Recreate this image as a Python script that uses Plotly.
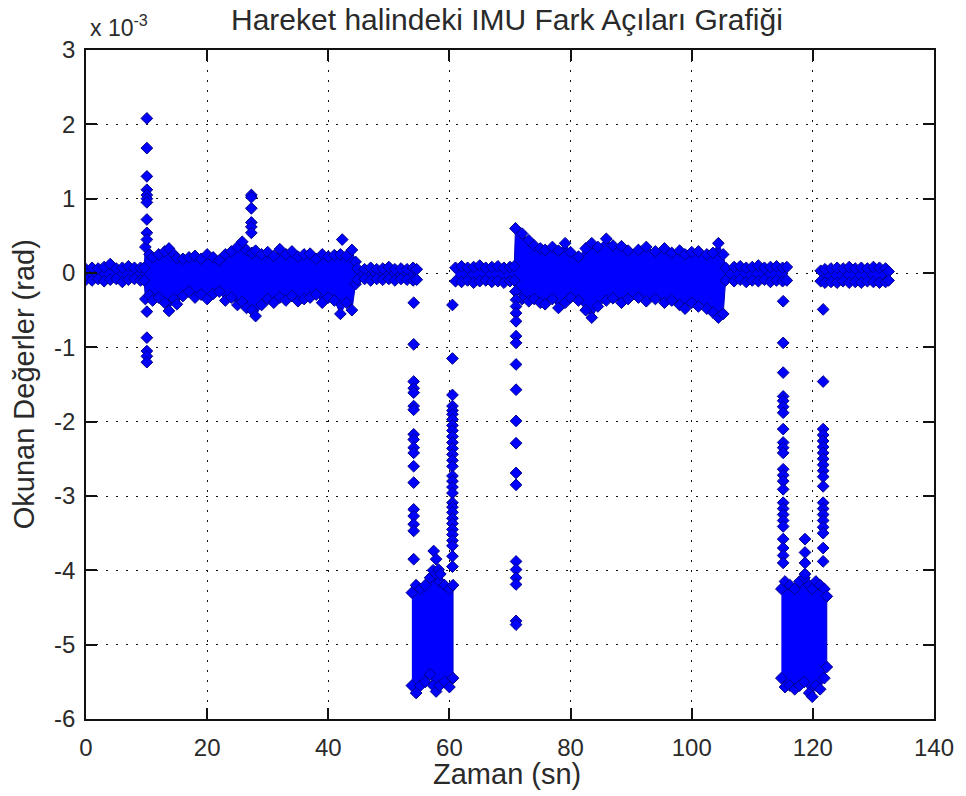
import plotly.graph_objects as go

# ---------------- data (values in units of 1e-3 rad) ----------------
x_ticks = [0, 20, 40, 60, 80, 100, 120, 140]
y_ticks = [-6, -5, -4, -3, -2, -1, 0, 1, 2, 3]

# dense cloud around zero, 0 .. 54.6 s (upper / lower envelope of sample centres)
segA_t = [0, 1, 2, 3, 4, 5, 6, 7, 8, 9, 9.6,
          9.8, 10.5, 11, 12, 13, 13.7, 14.5, 15, 16, 17, 18, 19, 20, 21, 22, 23, 24, 25, 25.8,
          26.5, 27.4, 28, 29, 30, 31, 32, 33, 34, 35, 36, 37, 38, 39, 40, 41, 42, 43, 43.9, 44.5,
          44.8, 46, 47, 48, 49, 50, 51, 52, 53, 54, 54.6]
segA_up = [.05, .07, .06, .08, .12, .06, .07, .09, .07, .07, .07,
           .35, .25, .21, .25, .29, .33, .25, .20, .19, .21, .23, .19, .25, .21, .17, .25, .29, .35, .42,
           .31, .27, .30, .25, .28, .23, .32, .25, .29, .22, .25, .26, .19, .25, .22, .24, .25, .23, .31, .15,
           .06, .05, .07, .05, .06, .08, .05, .06, .05, .07, .05]
segA_lo = [-.09, -.10, -.08, -.11, -.09, -.08, -.12, -.09, -.08, -.10, -.10,
           -.35, -.30, -.37, -.33, -.40, -.51, -.35, -.42, -.31, -.25, -.33, -.29, -.35, -.28, -.25, -.37, -.33, -.43, -.39,
           -.47, -.50, -.58, -.43, -.35, -.40, -.33, -.37, -.31, -.38, -.35, -.33, -.29, -.40, -.33, -.37, -.55, -.40, -.50, -.15,
           -.09, -.08, -.10, -.08, -.09, -.08, -.10, -.08, -.09, -.10, -.09]

# low cloud 1, 53.8 .. 60.6 s
segB_t = [53.8, 54.5, 55.2, 56.0, 56.8, 57.3, 57.8, 58.4, 59.2, 60.0, 60.6]
segB_up = [-4.3, -4.2, -4.25, -4.2, -4.1, -4.0, -4.05, -4.15, -4.2, -4.25, -4.2]
segB_lo = [-5.55, -5.65, -5.55, -5.5, -5.4, -5.55, -5.63, -5.55, -5.5, -5.57, -5.45]

# cloud around zero, 61 .. 115.7 s
segC_t = [61.0, 62, 63, 64, 65, 66, 67, 68, 69, 70, 70.7,
          70.9, 72, 73.1, 74, 75, 75.8, 77, 78, 79.1, 80, 81.3, 82.5, 83.5, 84.5, 85.9, 87, 88.4,
          89.5, 91.2, 92.5, 94, 95.5, 96.7, 98, 98.9, 100, 101.1, 102.5, 103.5, 104.4, 105.2,
          105.6, 107, 108, 109, 110, 111, 112, 113, 114, 115, 115.7]
segC_up = [.07, .09, .07, .08, .10, .07, .08, .09, .07, .08, .09,
           .60, .53, .44, .37, .33, .31, .35, .30, .40, .28, .22, .33, .40, .35, .46, .37, .36,
           .30, .31, .35, .29, .33, .27, .30, .25, .28, .29, .25, .27, .40, .25,
           .07, .08, .09, .07, .08, .10, .07, .08, .09, .07, .08]
segC_lo = [-.11, -.12, -.10, -.13, -.11, -.10, -.12, -.11, -.13, -.11, -.10,
           -.25, -.35, -.38, -.35, -.40, -.42, -.35, -.47, -.40, -.33, -.37, -.50, -.60, -.45, -.37, -.34, -.40,
           -.35, -.33, -.38, -.35, -.40, -.37, -.43, -.48, -.40, -.45, -.48, -.53, -.60, -.55,
           -.10, -.11, -.09, -.12, -.10, -.11, -.09, -.12, -.10, -.11, -.10]

# low cloud 2, 114.8 .. 122.3 s
segD_t = [114.8, 115.4, 116.2, 117.0, 117.8, 118.6, 119.4, 119.9, 120.5, 121.2, 121.9, 122.3]
segD_up = [-4.25, -4.15, -4.2, -4.25, -4.15, -4.1, -4.2, -4.25, -4.15, -4.2, -4.25, -4.35]
segD_lo = [-5.45, -5.57, -5.55, -5.6, -5.55, -5.5, -5.65, -5.7, -5.55, -5.6, -5.45, -5.3]

# quiet band at the end, 121.3 .. 132.5 s
segE_t = [121.3, 122, 123, 124, 125, 126, 127, 128, 129, 130, 131, 132, 132.5]
segE_up = [.03, .05, .06, .07, .06, .08, .06, .07, .06, .08, .07, .06, .02]
segE_lo = [-.11, -.13, -.12, -.13, -.11, -.13, -.12, -.13, -.11, -.12, -.13, -.12, -.10]

# isolated samples (time s, value 1e-3 rad)
out_t = ([10.05] * 15 + [27.3] * 6 + [42.3]
         + [54.1] * 18
         + [60.5] * 30
         + [57.4, 57.8, 58.2, 58.5]
         + [71.0] * 18
         + [115.1] * 24
         + [121.7] * 20
         + [118.7] * 4)
out_v = ([2.08, 1.68, 1.30, 1.12, 1.05, 1.00, 0.95, 0.72, 0.54, 0.45, -0.52, -0.87, -1.05, -1.12, -1.20]
         + [1.05, 1.02, 0.87, 0.68, 0.62, 0.54] + [0.45]
         + [-0.40, -0.96, -1.46, -1.55, -1.61, -1.79, -1.84, -2.17, -2.24, -2.35, -2.42, -2.60, -2.82,
            -3.18, -3.27, -3.38, -3.47, -3.85]
         + [-0.43, -1.15, -1.64, -1.79, -1.85, -1.90, -1.97, -2.05, -2.12, -2.20, -2.28, -2.36, -2.44,
            -2.52, -2.60, -2.73, -2.80, -2.88, -2.96, -3.09, -3.15, -3.22, -3.30, -3.37, -3.45, -3.52,
            -3.60, -3.67, -3.81, -3.95]
         + [-3.74, -3.85, -3.99, -4.05]
         + [-0.36, -0.45, -0.54, -0.65, -0.85, -0.94, -1.23, -1.57, -1.99, -2.29, -2.69, -2.85,
            -3.88, -3.99, -4.10, -4.19, -4.68, -4.73]
         + [-0.38, -0.94, -1.34, -1.66, -1.72, -1.80, -1.88, -2.10, -2.28, -2.35, -2.42, -2.64, -2.72,
            -2.80, -2.91, -3.09, -3.17, -3.25, -3.33, -3.41, -3.58, -3.70, -3.80, -3.90]
         + [-0.49, -1.46, -2.10, -2.18, -2.26, -2.34, -2.42, -2.50, -2.58, -2.66, -2.74, -2.87, -3.09,
            -3.17, -3.25, -3.33, -3.42, -3.50, -3.70, -3.88]
         + [-3.58, -3.76, -3.90, -4.05])

TITLE = "Hareket halindeki IMU Fark Açıları Grafiği"
XLABEL = "Zaman (sn)"
YLABEL = "Okunan Değerler (rad)"

# ---------------- figure ----------------
FILL = "#0000FF"
EDGE = "#00008B"
FONT = "Liberation Sans, Arial, Helvetica, sans-serif"
TXT = "#2a2a2a"

fig = go.Figure()

segments = [(segA_t, segA_up, segA_lo), (segB_t, segB_up, segB_lo), (segC_t, segC_up, segC_lo),
            (segD_t, segD_up, segD_lo), (segE_t, segE_up, segE_lo)]

for t, up, lo in segments:
    fig.add_trace(go.Scatter(
        x=list(t) + list(t)[::-1], y=list(up) + list(lo)[::-1],
        mode="lines", fill="toself", fillcolor=FILL,
        line=dict(color="#0000C8", width=1), hoverinfo="skip", showlegend=False))
    fig.add_trace(go.Scatter(
        x=list(t) + list(t), y=list(up) + list(lo), mode="markers",
        marker=dict(symbol="diamond", size=9, color=FILL, line=dict(color=EDGE, width=1)),
        showlegend=False))

fig.add_trace(go.Scatter(
    x=out_t, y=out_v, mode="markers",
    marker=dict(symbol="diamond", size=9, color=FILL, line=dict(color=EDGE, width=1)),
    showlegend=False))

axis_common = dict(
    ticks="inside", ticklen=11, tickwidth=1.5, tickcolor="#111",
    showline=True, linecolor="#111", linewidth=1.5, mirror="ticks",
    showgrid=True, gridcolor="#111", gridwidth=1, griddash="2px,8px",
    zeroline=False,
    tickfont=dict(family=FONT, size=24, color=TXT),
)

fig.update_xaxes(range=[0, 140], tickvals=x_ticks, ticktext=[str(v) for v in x_ticks],
                 ticklabelstandoff=6, **axis_common)
fig.update_yaxes(range=[-6, 3], tickvals=y_ticks, ticktext=[str(v) for v in y_ticks],
                 ticklabelstandoff=4, **axis_common)

# plot area at x 86..938, y 50..719 of the 966x796 window
W, H = 966, 796
L, R, T, B = 86, 28, 50, 77
PL, PT, PW, PH = L, T, W - L - R, H - T - B

def px(x):
    return (x - PL) / PW

def py(y):
    return (PT + PH - y) / PH

fig.update_layout(
    width=W, height=H,
    margin=dict(l=L, r=R, t=T, b=B),
    paper_bgcolor="white", plot_bgcolor="white",
    showlegend=False,
    font=dict(family=FONT, color=TXT),
    annotations=[
        dict(text=TITLE, x=px(509), y=py(19), xref="paper", yref="paper",
             xanchor="center", yanchor="middle", showarrow=False,
             font=dict(family=FONT, size=30, color=TXT)),
        dict(text=XLABEL, x=px(509), y=py(774), xref="paper", yref="paper",
             xanchor="center", yanchor="middle", showarrow=False,
             font=dict(family=FONT, size=29, color=TXT)),
        dict(text=YLABEL, x=px(24), y=py(384), xref="paper", yref="paper",
             xanchor="center", yanchor="middle", textangle=-90, showarrow=False,
             font=dict(family=FONT, size=29, color=TXT)),
        dict(text="x 10<sup>-3</sup>", x=px(88), y=py(26), xref="paper", yref="paper",
             xanchor="left", yanchor="middle", showarrow=False,
             font=dict(family=FONT, size=23, color=TXT)),
    ],
)

fig.write_html("out.html",
               config={"displayModeBar": False},
               post_script="document.body.style.margin='0px';document.body.style.overflow='hidden';")
